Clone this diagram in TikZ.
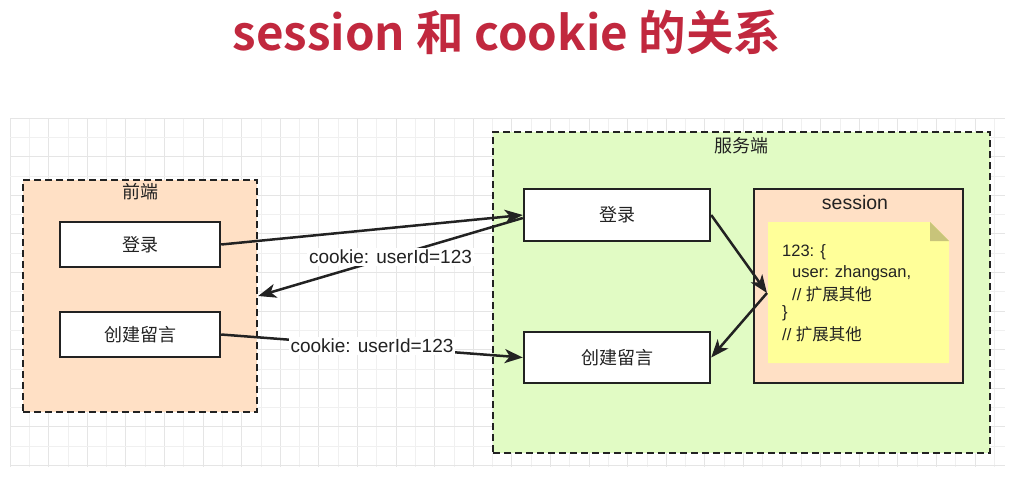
\documentclass[tikz,border=0pt]{standalone}
\usepackage{fontspec}
\setmainfont{Liberation Sans}
\newfontfamily\cjk{Noto Sans CJK SC}
\newfontfamily\cjkb{Noto Sans CJK SC Bold}
\usetikzlibrary{arrows.meta,calc}
\definecolor{peach}{RGB}{255,224,197}
\definecolor{lgreen}{RGB}{225,251,196}
\definecolor{noteyellow}{RGB}{255,255,153}
\definecolor{notefold}{RGB}{200,196,122}
\definecolor{titlered}{RGB}{193,40,62}
\definecolor{ink}{RGB}{34,34,34}
\tikzset{
  gridminor/.style={draw=black!6, line width=0.6pt},
  gridmajor/.style={draw=black!10, line width=0.8pt},
  grp/.style={draw=ink, dash pattern=on 7pt off 4pt, line width=2.4pt, inner sep=0pt},
  boxnode/.style={draw=ink, line width=2.4pt, fill=white, inner sep=0pt, text=ink,
     font=\cjk\fontsize{18}{20}\selectfont},
  lbl/.style={text=ink, inner sep=0pt, font=\cjk\fontsize{18}{20}\selectfont},
  arr/.style={line width=2.5pt, draw=ink, -{Stealth[length=18pt,width=14pt,inset=5pt]}},
  cookielbl/.style={fill=white, text=ink, inner sep=2pt, font=\fontsize{19}{21}\selectfont},
  notetxt/.style={anchor=west, text=ink, inner sep=0pt, font=\fontsize{16.5}{19}\selectfont}
}
\begin{document}
\begin{tikzpicture}[x=1pt,y=-1pt]
\useasboundingbox (0,0) rectangle (1021,480);
\fill[white] (0,0) rectangle (1021,480);
% grid
\begin{scope}
\clip (10,118) rectangle (1005,467);
\foreach \i in {0,...,52} {
  \pgfmathsetmacro{\xx}{10+\i*19.3}
  \ifodd\i \draw[gridminor] (\xx,118) -- ++(0,349); \else \draw[gridmajor] (\xx,118) -- ++(0,349); \fi
}
\foreach \j in {0,...,18} {
  \pgfmathsetmacro{\yy}{118+\j*19.3}
  \ifodd\j \draw[gridminor] (10,\yy) -- ++(995,0); \else \draw[gridmajor] (10,\yy) -- ++(995,0); \fi
}
\end{scope}
% title
\node[text=titlered, inner sep=0pt, font=\cjkb\fontsize{47.5}{54}\selectfont] (title) at (507,32) {session 和 cookie 的关系};
% groups
\node[grp, fill=peach, minimum width=234pt, minimum height=232pt] (front) at (140,296) {};
\node[lbl] (frontlbl) at (140,192) {前端};
\node[grp, fill=lgreen, minimum width=497pt, minimum height=321pt] (server) at (741.5,292.5) {};
\node[lbl] (serverlbl) at (741,146) {服务端};
% front boxes
\node[boxnode, minimum width=160pt, minimum height=45pt] (fl) at (140,244.5) {登录};
\node[boxnode, minimum width=160pt, minimum height=45pt] (fc) at (140,334.5) {创建留言};
% server boxes
\node[boxnode, minimum width=186pt, minimum height=52pt] (sl) at (617,215) {登录};
\node[boxnode, minimum width=186pt, minimum height=51pt] (sc) at (617,357.5) {创建留言};
% session
\node[draw=ink, line width=2.4pt, fill=peach, minimum width=209pt, minimum height=194pt, inner sep=0pt] (sess) at (858.5,286) {};
\node[text=ink, inner sep=0pt, font=\fontsize{19.5}{22}\selectfont] (sesslbl) at (855,203) {session};
% note
\fill[noteyellow] (768,222) -- (930,222) -- (949,241) -- (949,363) -- (768,363) -- cycle;
\fill[notefold] (930,222) -- (949,241) -- (930,241) -- cycle;
\node[notetxt] (n1) at (782,252) {123: \{};
\node[notetxt] (n2) at (792,273) {user: zhangsan,};
\node[notetxt] (n3) at (792,294) {// {\cjk 扩展其他}};
\node[notetxt] (n4) at (782,313) {\}};
\node[notetxt] (n5) at (782,334) {// {\cjk 扩展其他}};
\coordinate (meet) at (767,293);
% connectors
\draw[arr] (fl.east) -- (sl.west);
\draw[arr] ([yshift=-3pt]sl.west) -- node[cookielbl] {cookie: userId=123} (front.east);
\draw[arr] (fc.east) -- node[cookielbl] {cookie: userId=123} (sc.west);
\draw[arr] (sl.east) -- (meet);
\draw[arr] (meet) -- (sc.east);
\end{tikzpicture}
\end{document}
